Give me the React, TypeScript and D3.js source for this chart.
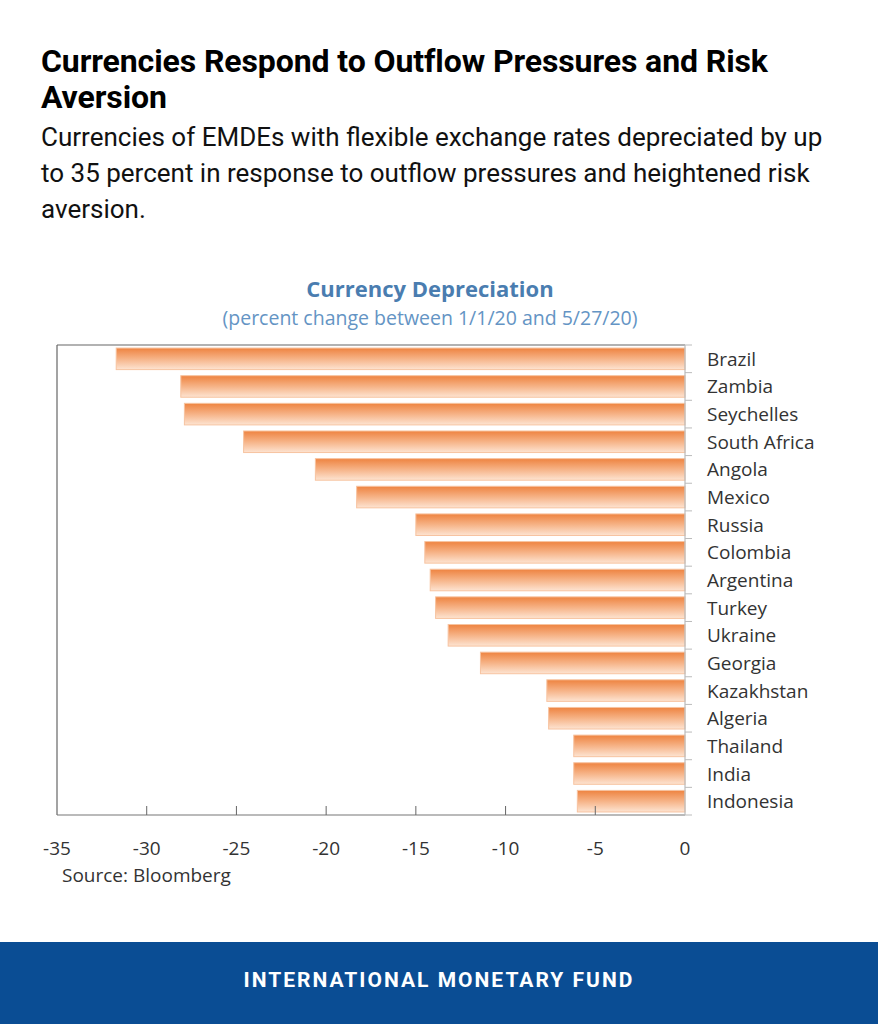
import * as d3 from "d3";

const countries = [
  "Brazil", "Zambia", "Seychelles", "South Africa", "Angola", "Mexico", "Russia",
  "Colombia", "Argentina", "Turkey", "Ukraine", "Georgia", "Kazakhstan", "Algeria",
  "Thailand", "India", "Indonesia",
];
const depreciation = [
  -31.7, -28.1, -27.9, -24.6, -20.6, -18.3, -15.0, -14.5, -14.2, -13.9, -13.2,
  -11.4, -7.7, -7.6, -6.2, -6.2, -6.0,
];
const xTicks = [-35, -30, -25, -20, -15, -10, -5, 0];

const headline = ["Currencies Respond to Outflow Pressures and Risk", "Aversion"];
const deck = [
  "Currencies of EMDEs with flexible exchange rates depreciated by up",
  "to 35 percent in response to outflow pressures and heightened risk",
  "aversion.",
];

export default function App() {
  const W = 878, H = 1024;
  const plot = { left: 57, right: 685, top: 345, bottom: 815 };

  const x = d3.scaleLinear().domain([-35, 0]).range([plot.left, plot.right]);
  const y = d3.scaleBand<string>()
    .domain(countries)
    .range([plot.top, plot.bottom])
    .paddingInner(0.22)
    .paddingOuter(0.11);
  const band = d3.scaleBand<string>().domain(countries).range([plot.top, plot.bottom]);

  const chartFont = "'Open Sans', 'Noto Sans', sans-serif";

  return (
    <div style={{ position: "absolute", left: 0, top: 0 }}>
      <svg width={W} height={H} style={{ display: "block" }}>
        <defs>
          <linearGradient id="barGrad" x1="0" y1="0" x2="0" y2="1">
            <stop offset="0" stopColor="#ee8340" />
            <stop offset="0.5" stopColor="#f6b387" />
            <stop offset="1" stopColor="#fde4d2" />
          </linearGradient>
        </defs>
        <rect width={W} height={H} fill="#ffffff" />

        {/* headline */}
        <g fontFamily="Roboto, sans-serif" fill="#000">
          {headline.map((t, i) => (
            <text key={t} x={41} y={72 + i * 36} fontSize={32} fontWeight={700} letterSpacing={-0.1}>{t}</text>
          ))}
          {deck.map((t, i) => (
            <text key={t} x={41} y={146 + i * 36} fontSize={26} fill="#111">{t}</text>
          ))}
        </g>

        {/* chart title */}
        <text x={430} y={297} textAnchor="middle" fontFamily={chartFont} fontSize={22} fontWeight={700} fill="#4a7db0">
          Currency Depreciation
        </text>
        <text x={430} y={325} textAnchor="middle" fontFamily={chartFont} fontSize={19.5} fill="#6494c4">
          (percent change between 1/1/20 and 5/27/20)
        </text>

        {/* bars */}
        <g>
          {countries.map((c, i) => (
            <rect
              key={c}
              x={x(depreciation[i])}
              y={y(c)}
              width={x(0) - x(depreciation[i])}
              height={y.bandwidth()}
              fill="url(#barGrad)"
              stroke="#f7c3a0"
              strokeWidth={1}
            />
          ))}
        </g>

        {/* frame */}
        <g fill="none" strokeWidth={1.2}>
          <line x1={plot.left} x2={plot.right} y1={plot.top} y2={plot.top} stroke="#666" />
          <line x1={plot.left} x2={plot.left} y1={plot.top} y2={plot.bottom} stroke="#666" />
          <line x1={plot.left} x2={plot.right} y1={plot.bottom} y2={plot.bottom} stroke="#777" />
          <line x1={plot.right} x2={plot.right} y1={plot.top} y2={plot.bottom} stroke="#bbb" />
        </g>

        {/* category ticks */}
        <g stroke="#bbb">
          {countries.map((c) => (
            <line key={c} x1={plot.right} x2={plot.right + 7} y1={band(c)!} y2={band(c)!} />
          ))}
          <line x1={plot.right} x2={plot.right + 7} y1={plot.bottom} y2={plot.bottom} />
        </g>

        {/* x ticks */}
        <g stroke="#666">
          {xTicks.slice(1, -1).map((t) => (
            <line key={t} x1={x(t)} x2={x(t)} y1={plot.bottom} y2={plot.bottom - 9} />
          ))}
        </g>
        <g fontFamily={chartFont} fontSize={19} fill="#333" textAnchor="middle">
          {xTicks.map((t) => (
            <text key={t} x={x(t)} y={855}>{t}</text>
          ))}
        </g>

        {/* category labels */}
        <g fontFamily={chartFont} fontSize={19} fill="#333">
          {countries.map((c) => (
            <text key={c} x={707} y={band(c)! + band.bandwidth() / 2 + 7}>{c}</text>
          ))}
        </g>

        <text x={62} y={882} fontFamily={chartFont} fontSize={19} fill="#333">Source: Bloomberg</text>

        {/* footer */}
        <rect x={0} y={942} width={W} height={H - 942} fill="#0a4d94" />
        <text x={439} y={987} textAnchor="middle" fontFamily="Roboto, sans-serif" fontWeight={700} fontSize={21} letterSpacing={2} fill="#fff">
          INTERNATIONAL MONETARY FUND
        </text>
      </svg>
    </div>
  );
}
